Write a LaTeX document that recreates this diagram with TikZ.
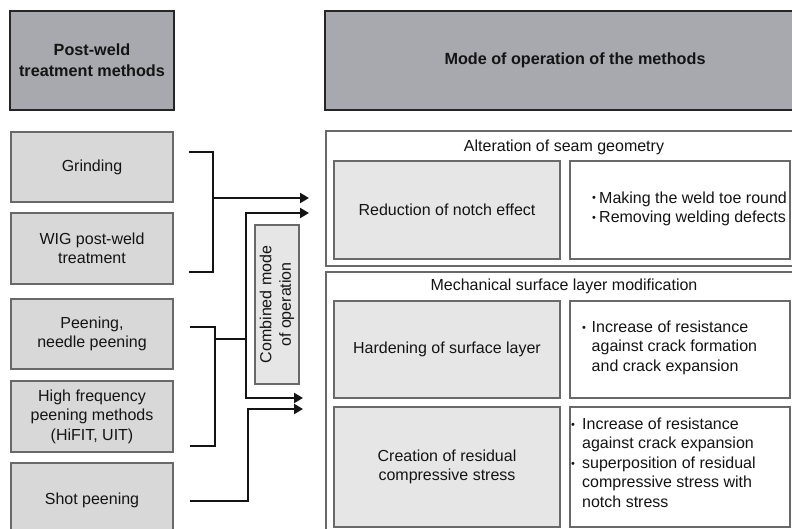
\documentclass[tikz,border=0pt]{standalone}
\usepackage{fontspec}
\setmainfont{Liberation Sans}
\usetikzlibrary{arrows.meta}
\definecolor{headgray}{RGB}{168,169,174}
\definecolor{boxgray}{RGB}{216,216,216}
\definecolor{effgray}{RGB}{230,230,230}
\definecolor{edgegray}{RGB}{105,105,105}
\definecolor{txtcol}{RGB}{20,20,20}
\newcommand{\bul}{\raisebox{0.15ex}{\fontsize{11}{11}\selectfont\textbullet}}
\newcommand{\blist}[2]{\begin{tabular}{@{}p{#1}@{}l@{}}#2\end{tabular}}
\begin{document}
\begin{tikzpicture}[x=1pt, y=-1pt,
    every node/.style={font=\fontsize{16}{19.5}\selectfont, text=txtcol, inner sep=0pt, align=center},
    head/.style={draw=black!85, line width=2.5pt, fill=headgray, font=\fontsize{16.2}{21}\selectfont\bfseries},
    method/.style={draw=edgegray, line width=1.3pt, fill=boxgray, minimum width=162pt},
    group/.style={draw=edgegray, line width=1.2pt, fill=white, minimum width=476pt},
    effect/.style={draw=edgegray, line width=1.3pt, fill=effgray, minimum width=226pt},
    note/.style={draw=edgegray, line width=1.3pt, fill=white, minimum width=220pt},
    conn/.style={line width=2.2pt, draw=txtcol},
    arr/.style={conn, -{Triangle[length=9pt, width=10pt]}}]
  \useasboundingbox (0,0) rectangle (792,529);
  \clip (0,0) rectangle (792,529);

  % headers
  \node[head, minimum width=164pt, minimum height=99pt] at (92,60.5) (hmeth) {Post-weld\\treatment methods};
  \node[head, minimum width=500pt, minimum height=99pt] at (575,60.5) (hmode) {Mode of operation of the methods};

  % treatment methods
  \node[method, minimum height=70pt] at (92,167)   (grind) {Grinding};
  \node[method, minimum height=71pt] at (92,248.5) (wig)   {WIG post-weld\\treatment};
  \node[method, minimum height=70pt] at (92,334)   (peen)  {Peening,\\needle peening};
  \node[method, minimum height=71pt] at (92,416.5) (hifit) {High frequency\\peening methods\\(HiFIT, UIT)};
  \node[method, minimum height=74pt] at (92,500)   (shot)  {Shot peening};

  \node[method, fill=effgray, rotate=90, minimum width=159pt, minimum height=44pt] at (277,304.5) (combi) {Combined mode\\of operation};

  % modes of operation
  \node[group, minimum height=135pt] at (564,198.5) (seam) {};
  \node at (564,147) (seamtitle) {Alteration of seam geometry};
  \node[effect, minimum height=98pt] at (447,210) (notch) {Reduction of notch effect};
  \node[note, minimum height=98pt] at (680,210) (notchbox) {};
  \node[anchor=west] at (592,209) (notchtxt) {\blist{7pt}{\bul & Making the weld toe round\\ \bul & Removing welding defects}};

  \node[group, minimum height=288pt] at (564,416) (mech) {};
  \node at (564,286) (mechtitle) {Mechanical surface layer modification};
  \node[effect, minimum height=97pt] at (447,349.5) (harden) {Hardening of surface layer};
  \node[note, minimum height=97pt] at (680,349.5) (hardbox) {};
  \node[anchor=west] at (582,348) (hardtxt) {\blist{9.5pt}{\bul & Increase of resistance\\ & against crack formation\\ & and crack expansion}};
  \node[effect, minimum height=120pt] at (447,467) (stress) {Creation of residual\\compressive stress};
  \node[note, minimum height=120pt] at (680,467) (stressbox) {};
  \node[anchor=west] at (571,464.5) (stresstxt) {\blist{11pt}{\bul & Increase of resistance\\ & against crack expansion\\ \bul & superposition of residual\\ & compressive stress with\\ & notch stress}};

  % connectors
  \coordinate (g1) at (189,152);
  \coordinate (g2) at (189,272);
  \coordinate (gj) at (213,198);
  \coordinate (p1) at (190,327);
  \coordinate (p2) at (190,446);
  \coordinate (pj) at (215,339);
  \coordinate (cj) at (246,339);
  \coordinate (s1) at (190,501);
  \coordinate (sj) at (248,501);
  \coordinate (a1) at (309,198);
  \coordinate (a2) at (309,213);
  \coordinate (a3) at (303,398);
  \coordinate (a4) at (303,409);

  \draw[conn] (g1) -| (gj) |- (g2);
  \draw[arr] (gj) -- (a1);
  \draw[conn] (p1) -| (pj) |- (p2);
  \draw[conn] (pj) -- (cj);
  \draw[arr] (cj) |- (a2);
  \draw[arr] (cj) |- (a3);
  \draw[arr] (s1) -- (sj) |- (a4);
\end{tikzpicture}
\end{document}
